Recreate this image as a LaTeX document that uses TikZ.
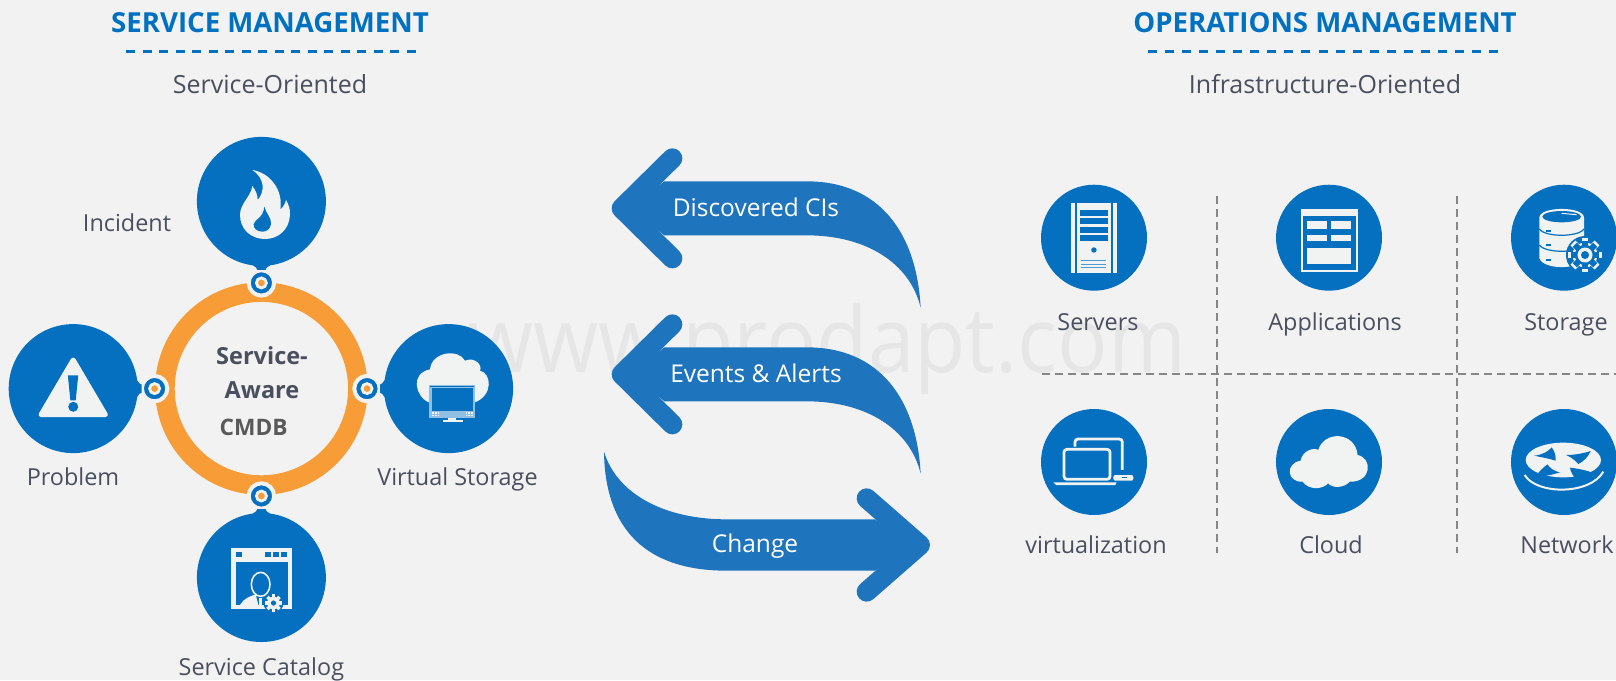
\documentclass[tikz,border=0pt]{standalone}
\usepackage{fontspec}
\setmainfont{Open Sans}
\definecolor{pagebg}{HTML}{F2F2F2}
\definecolor{iconbg}{HTML}{F1F3F3}
\definecolor{cblue}{HTML}{0570BF}
\definecolor{ablue}{HTML}{1E74BD}
\definecolor{ringo}{HTML}{F89C38}
\definecolor{txtc}{HTML}{4A4F5E}
\definecolor{headc}{HTML}{0070C0}
\definecolor{markc}{HTML}{E6E6E6}
\tikzset{
  bigdisc/.style={circle,fill=cblue,minimum size=129pt,inner sep=0pt},
  smalldisc/.style={circle,fill=cblue,minimum size=106pt,inner sep=0pt},
  knob/.style={circle,fill=cblue,draw=pagebg,line width=4pt,minimum size=25.4pt,inner sep=0pt},
  knobin/.style={circle,fill=ringo,draw=iconbg,line width=2.8pt,minimum size=10pt,inner sep=0pt},
  necklink/.style={cblue,line width=8pt},
  lab/.style={anchor=base,text=txtc,font=\fontsize{23.4}{26}\selectfont,inner sep=0pt},
  sublab/.style={anchor=base,text=txtc,font=\fontsize{25}{28}\selectfont,inner sep=0pt},
  arrowlab/.style={anchor=base,text=white,font=\fontsize{24.5}{28}\selectfont,inner sep=0pt},
  headtxt/.style={anchor=base,text=headc,font=\fontsize{27.6}{30}\selectfont\bfseries,inner sep=0pt},
  coretxt/.style={anchor=base,text=txtc,font=\fontsize{23.5}{26}\selectfont\bfseries,inner sep=0pt},
  headdash/.style={headc,line width=3pt,dash pattern=on 9pt off 7.53pt},
  griddash/.style={gray!95,line width=1.4pt,dash pattern=on 8pt off 5pt},
  za/.style={x=0.35714pt,y=-0.35714pt},
  zb/.style={x=0.33333pt,y=-0.33333pt},
  zc/.style={x=0.39293pt,y=-0.33333pt},
  bendfill/.style={fill=ablue},
  chev/.style={ablue,line width=20pt,line cap=round,line join=round}
}
% gear: centre, outer radius, body radius, colour, hole radius
\newcommand\cogwheel[5]{%
  \foreach \aa in {0,45,...,315}{
    \fill[#4] (#1) ++(\aa:#2) ++(\aa+90:#2*0.2) -- ++(\aa+180:#2*0.35) -- ++(\aa-90:#2*0.4) -- ++(\aa:#2*0.35) -- cycle;
  }
  \fill[#4] (#1) circle[radius=#3];
  \fill[cblue] (#1) circle[radius=#5];
}
\newcommand\neckflare[2]{%
  \begin{scope}[shift={(#1)},rotate=#2]
    \fill[cblue] (13,-4) .. controls (15,-4) and (15.5,-6) .. (18,-9) -- (20,-9) -- (20,9) -- (18,9) .. controls (15.5,6) and (15,4) .. (13,4) -- cycle;
  \end{scope}
}
\begin{document}
\begin{tikzpicture}[x=1pt,y=-1pt]
\useasboundingbox (0,0) rectangle (1616,680);
\clip (0,0) rectangle (1616,680);
\fill[pagebg] (0,0) rectangle (1616,680);

% watermark
\node[anchor=base,text=markc,font=\fontsize{91}{100}\selectfont,inner sep=0pt] (mark) at (827,372) {\scalebox{0.92}[1]{www.prodapt.com}};

% headers
\node[headtxt] (h1) at (270,32.3) {SERVICE MANAGEMENT};
\node[headtxt] (h2) at (1325,32.3) {OPERATIONS MANAGEMENT};
\coordinate (d1a) at (126,51); \coordinate (d1b) at (416,51);
\coordinate (d2a) at (1148,51); \coordinate (d2b) at (1498,51);
\draw[headdash] (d1a) -- (d1b);
\draw[headdash,dash pattern=on 9pt off 8.05pt] (d2a) -- (d2b);
\node[sublab] (s1) at (270,93) {Service-Oriented};
\node[sublab] (s2) at (1325,93) {Infrastructure-Oriented};

% ring
\coordinate (ctr) at (261.4,388.6);
\draw[ringo,line width=19.6pt] (ctr) circle[radius=96.5];

% discs
\node[bigdisc] (top) at (261.4,201.4) {};
\node[bigdisc] (left) at (73.2,388.6) {};
\node[bigdisc] (right) at (448.6,388.6) {};
\node[bigdisc] (bot) at (261.4,577.5) {};

% knobs and necks
\node[knob] (ktop) at (261.4,282.9) {};
\node[knob] (kbot) at (261.4,496) {};
\node[knob] (kleft) at (154.6,388.6) {};
\node[knob] (kright) at (367,388.6) {};
\draw[necklink] (top) -- (ktop);
\draw[necklink] (bot) -- (kbot);
\draw[necklink] (left) -- (kleft);
\draw[necklink] (right) -- (kright);
\neckflare{ktop}{90}
\neckflare{kbot}{-90}
\neckflare{kleft}{180}
\neckflare{kright}{0}
\node[knobin] at (ktop) {};
\node[knobin] at (kbot) {};
\node[knobin] at (kleft) {};
\node[knobin] at (kright) {};

% centre text
\node[coretxt] (c1) at (262,364.6) {Service-};
\node[coretxt] (c2) at (262,398) {Aware};
\node[coretxt,text=black!65,font=\fontsize{22.7}{26}\selectfont\bfseries] (c3) at (253.6,435) {CMDB};

% left labels
\node[lab] (lincident) at (127,231) {Incident};
\node[lab] (lproblem) at (73,485) {Problem};
\node[lab] (lvirtual) at (457.5,485) {Virtual Storage};
\node[lab] (lcatalog) at (261.4,675) {Service Catalog};

% flame
\begin{scope}[shift={(215,160)},zb]
  \fill[iconbg] (112,30) .. controls (165,38) and (205,90) .. (196,148) .. controls (205,142) and (211,130) .. (213,120) .. controls (222,135) and (226,150) .. (225,165) .. controls (222,210) and (190,237) .. (150,237) .. controls (105,237) and (75,205) .. (75,165) .. controls (75,130) and (108,110) .. (112,78) .. controls (122,90) and (128,105) .. (128,120) .. controls (150,95) and (150,55) .. (112,30) -- cycle;
  \fill[cblue] (148,140) .. controls (152,160) and (170,172) .. (168,192) .. controls (166,207) and (155,215) .. (142,215) .. controls (126,215) and (115,205) .. (116,193) .. controls (118,178) and (145,175) .. (148,140) -- cycle;
\end{scope}

% warning sign
\begin{scope}[shift={(0,120)},za]
  \filldraw[iconbg,line width=5pt,line join=round] (205,672) -- (115,825) -- (295,825) -- cycle;
  \fill[cblue] (190,715) -- (219,715) -- (212,785) -- (197,785) -- cycle;
  \fill[cblue] (205,803) circle[radius=5pt];
\end{scope}

% cloud with monitor
\begin{scope}[shift={(400,340)},zb]
  \fill[iconbg] (88,188) .. controls (45,170) and (30,100) .. (90,88) .. controls (95,35) and (175,25) .. (195,62) .. controls (225,50) and (248,75) .. (240,92) .. controls (275,100) and (280,165) .. (225,187) -- cycle;
  \fill[cblue!45!white] (88,134) rectangle (226,233);
  \fill[cblue] (97,143) rectangle (218,212);
  \fill[cblue] (91,137) rectangle (223,139.5);
  \fill[iconbg] (145,233) rectangle (168,241);
  \fill[iconbg] (128,240) rectangle (188,246);
  \foreach \xx in {97,105,113,197,205,213}{\fill[iconbg] (\xx,217) rectangle ++(5,4); \fill[iconbg] (\xx,224) rectangle ++(5,4);}
\end{scope}

% catalogue window
\begin{scope}[shift={(215,530)},zb]
  \fill[iconbg] (48,53) rectangle (232,236);
  \fill[cblue] (63,65) rectangle (80,82);
  \fill[cblue] (150,65) rectangle (167,82);
  \fill[cblue] (174,65) rectangle (191,82);
  \fill[cblue] (198,65) rectangle (215,82);
  \fill[cblue] (63,95) rectangle (218,225);
  \fill[iconbg] (75,225) .. controls (85,205) and (108,198) .. (122,193) -- (130,225) -- cycle;
  \fill[iconbg] (133,205) rectangle (142,225);
  \fill[iconbg] (152,225) .. controls (152,212) and (158,205) .. (165,200) -- (175,225) -- cycle;
  \draw[iconbg,line width=1.6pt,fill=cblue] (137,163) ellipse[x radius=28,y radius=36];
\end{scope}
\fill[cblue] (273.5,603) circle[radius=10];
\cogwheel{273.5,603}{8.6}{6.3}{iconbg}{2.6}

% arrows
\begin{scope}[shift={(580,120)},zb]
  \foreach \dy in {0,498}{
    \begin{scope}[yshift=-\dy*0.33333pt]
      \draw[chev] (277,115) -- (125,265) -- (277,415);
      \fill[bendfill] (150,265) -- (253,184) -- (680,184) .. controls (900,184) and (1010,340) .. (1022,563) .. controls (990,430) and (860,346) .. (680,346) -- (253,346) -- cycle;
    \end{scope}
  }
  \draw[chev] (860,1135) -- (1020,1275) -- (860,1415);
  \fill[bendfill] (1000,1275) -- (885,1198) -- (440,1198) .. controls (250,1198) and (110,1120) .. (72,995) .. controls (75,1230) and (200,1352) .. (440,1352) -- (885,1352) -- cycle;
\end{scope}
\node[arrowlab] (a1) at (756,216) {Discovered CIs};
\node[arrowlab] (a2) at (756,382) {Events \& Alerts};
\node[arrowlab] (a3) at (755,552) {Change};

% grid lines
\coordinate (v1a) at (1217,196); \coordinate (v1b) at (1217,553);
\coordinate (v2a) at (1457,196); \coordinate (v2b) at (1457,553);
\coordinate (h0a) at (1042,374); \coordinate (h0b) at (1616,374);
\draw[griddash] (v1a) -- (v1b);
\draw[griddash] (v2a) -- (v2b);
\draw[griddash] (h0a) -- (h0b);

% right discs
\node[smalldisc] (n1) at (1094,237.7) {};
\node[smalldisc] (n2) at (1329,237.7) {};
\node[smalldisc] (n3) at (1564,237.7) {};
\node[smalldisc] (n4) at (1094,462) {};
\node[smalldisc] (n5) at (1329,462) {};
\node[smalldisc] (n6) at (1564,462) {};
\node[lab] (l1) at (1098,330) {Servers};
\node[lab] (l2) at (1335,330) {Applications};
\node[lab] (l3) at (1566,330) {Storage};
\node[lab] (l4) at (1096,553) {virtualization};
\node[lab] (l5) at (1331,553) {Cloud};
\node[lab] (l6) at (1567,553) {Network};

% server
\begin{scope}[shift={(1000,170)},zc]
  \fill[iconbg] (181,98) rectangle (192,308);
  \fill[iconbg] (197,98) rectangle (282,308);
  \fill[iconbg] (288,98) rectangle (298,308);
  \foreach \yy in {120,145,170,195}{\fill[cblue] (204,\yy) rectangle (275,\yy+18);}
  \fill[cblue] (239,240) circle[radius=2.7pt];
  \foreach \yy in {271,281,291}{\fill[cblue!70!white] (207,\yy) rectangle (271,\yy+3);}
\end{scope}

% applications
\begin{scope}[shift={(1000,170)},zc]
  \fill[iconbg] (766,117) rectangle (911,305);
  \fill[cblue] (770,137) rectangle (907,300);
  \fill[iconbg] (782,153) rectangle (833,177);
  \fill[iconbg] (843,153) rectangle (894,177);
  \fill[iconbg] (782,196) rectangle (833,213);
  \fill[iconbg] (843,196) rectangle (894,213);
  \fill[iconbg] (782,233) rectangle (894,283);
\end{scope}

% database with gear
\begin{scope}[shift={(1520,190)},zb]
  \fill[iconbg] (58,83) -- (58,205) .. controls (70,240) and (180,240) .. (192,205) -- (192,83) .. controls (192,48) and (58,48) .. (58,83) -- cycle;
  \fill[cblue] (125,80) ellipse[x radius=58,y radius=17];
  \draw[cblue,line width=1.2pt] (58,117) .. controls (75,142) and (175,142) .. (192,117);
  \draw[cblue,line width=1.2pt] (58,165) .. controls (75,190) and (175,190) .. (192,165);
  \fill[cblue] (78,120) rectangle (92,125);
  \fill[cblue] (78,163) rectangle (92,168);
  \fill[cblue] (78,208) rectangle (92,213);
  \draw[iconbg,line width=1pt] (125,70) -- (170,74);
\end{scope}
\fill[cblue] (1585,255) circle[radius=19];
\cogwheel{1585,255}{17}{12.5}{iconbg}{10}
\cogwheel{1585,255}{14.4}{10}{cblue}{7.5}
\fill[iconbg] (1585,255) circle[radius=7.5];
\fill[cblue] (1585,255) circle[radius=4];

% laptops
\begin{scope}[shift={(1050,420)},zb]
  \draw[iconbg,line width=2.8pt,rounded corners=3pt] (75,80) -- (75,57) -- (217,57) -- (217,152);
  \fill[cblue] (180,150) rectangle (222,158);
  \draw[iconbg,line width=2.8pt,rounded corners=3pt,fill=cblue] (42,178) -- (42,88) -- (180,88) -- (180,178) -- cycle;
  \fill[iconbg] (10,187) -- (200,187) -- (196,195) -- (18,195) -- cycle;
  \fill[iconbg,rounded corners=2pt] (190,165) rectangle (250,182);
  \fill[cblue] (215,172) rectangle (230,175);
\end{scope}

% plain cloud
\begin{scope}[shift={(1000,370)},zc]
  \fill[iconbg] (770,335) .. controls (730,338) and (725,280) .. (765,272) .. controls (770,240) and (800,232) .. (810,240) .. controls (825,180) and (905,185) .. (910,255) .. controls (950,265) and (945,338) .. (890,335) .. controls (875,355) and (845,355) .. (835,340) .. controls (820,360) and (785,360) .. (770,335) -- cycle;
\end{scope}

% router
\begin{scope}[shift={(1520,415)},zb]
  \fill[iconbg] (130,135) ellipse[x radius=113,y radius=52];
  \draw[iconbg,line width=2pt] (14,180) .. controls (50,240) and (210,240) .. (250,170);
  \fill[cblue] (42,122) .. controls (65,120) and (85,110) .. (95,97) .. controls (105,110) and (108,125) .. (107,137) .. controls (85,130) and (65,127) .. (42,122) -- cycle;
  \fill[cblue] (138,120) .. controls (165,120) and (190,115) .. (212,108) .. controls (205,125) and (190,140) .. (175,147) .. controls (165,135) and (150,125) .. (138,120) -- cycle;
  \fill[cblue] (48,185) .. controls (55,170) and (70,158) .. (82,148) .. controls (90,160) and (105,170) .. (120,172) .. controls (95,180) and (70,185) .. (48,185) -- cycle;
  \fill[cblue] (150,158) .. controls (170,160) and (195,165) .. (215,172) .. controls (200,178) and (185,185) .. (170,193) .. controls (160,185) and (152,172) .. (150,158) -- cycle;
\end{scope}
\end{tikzpicture}
\end{document}
